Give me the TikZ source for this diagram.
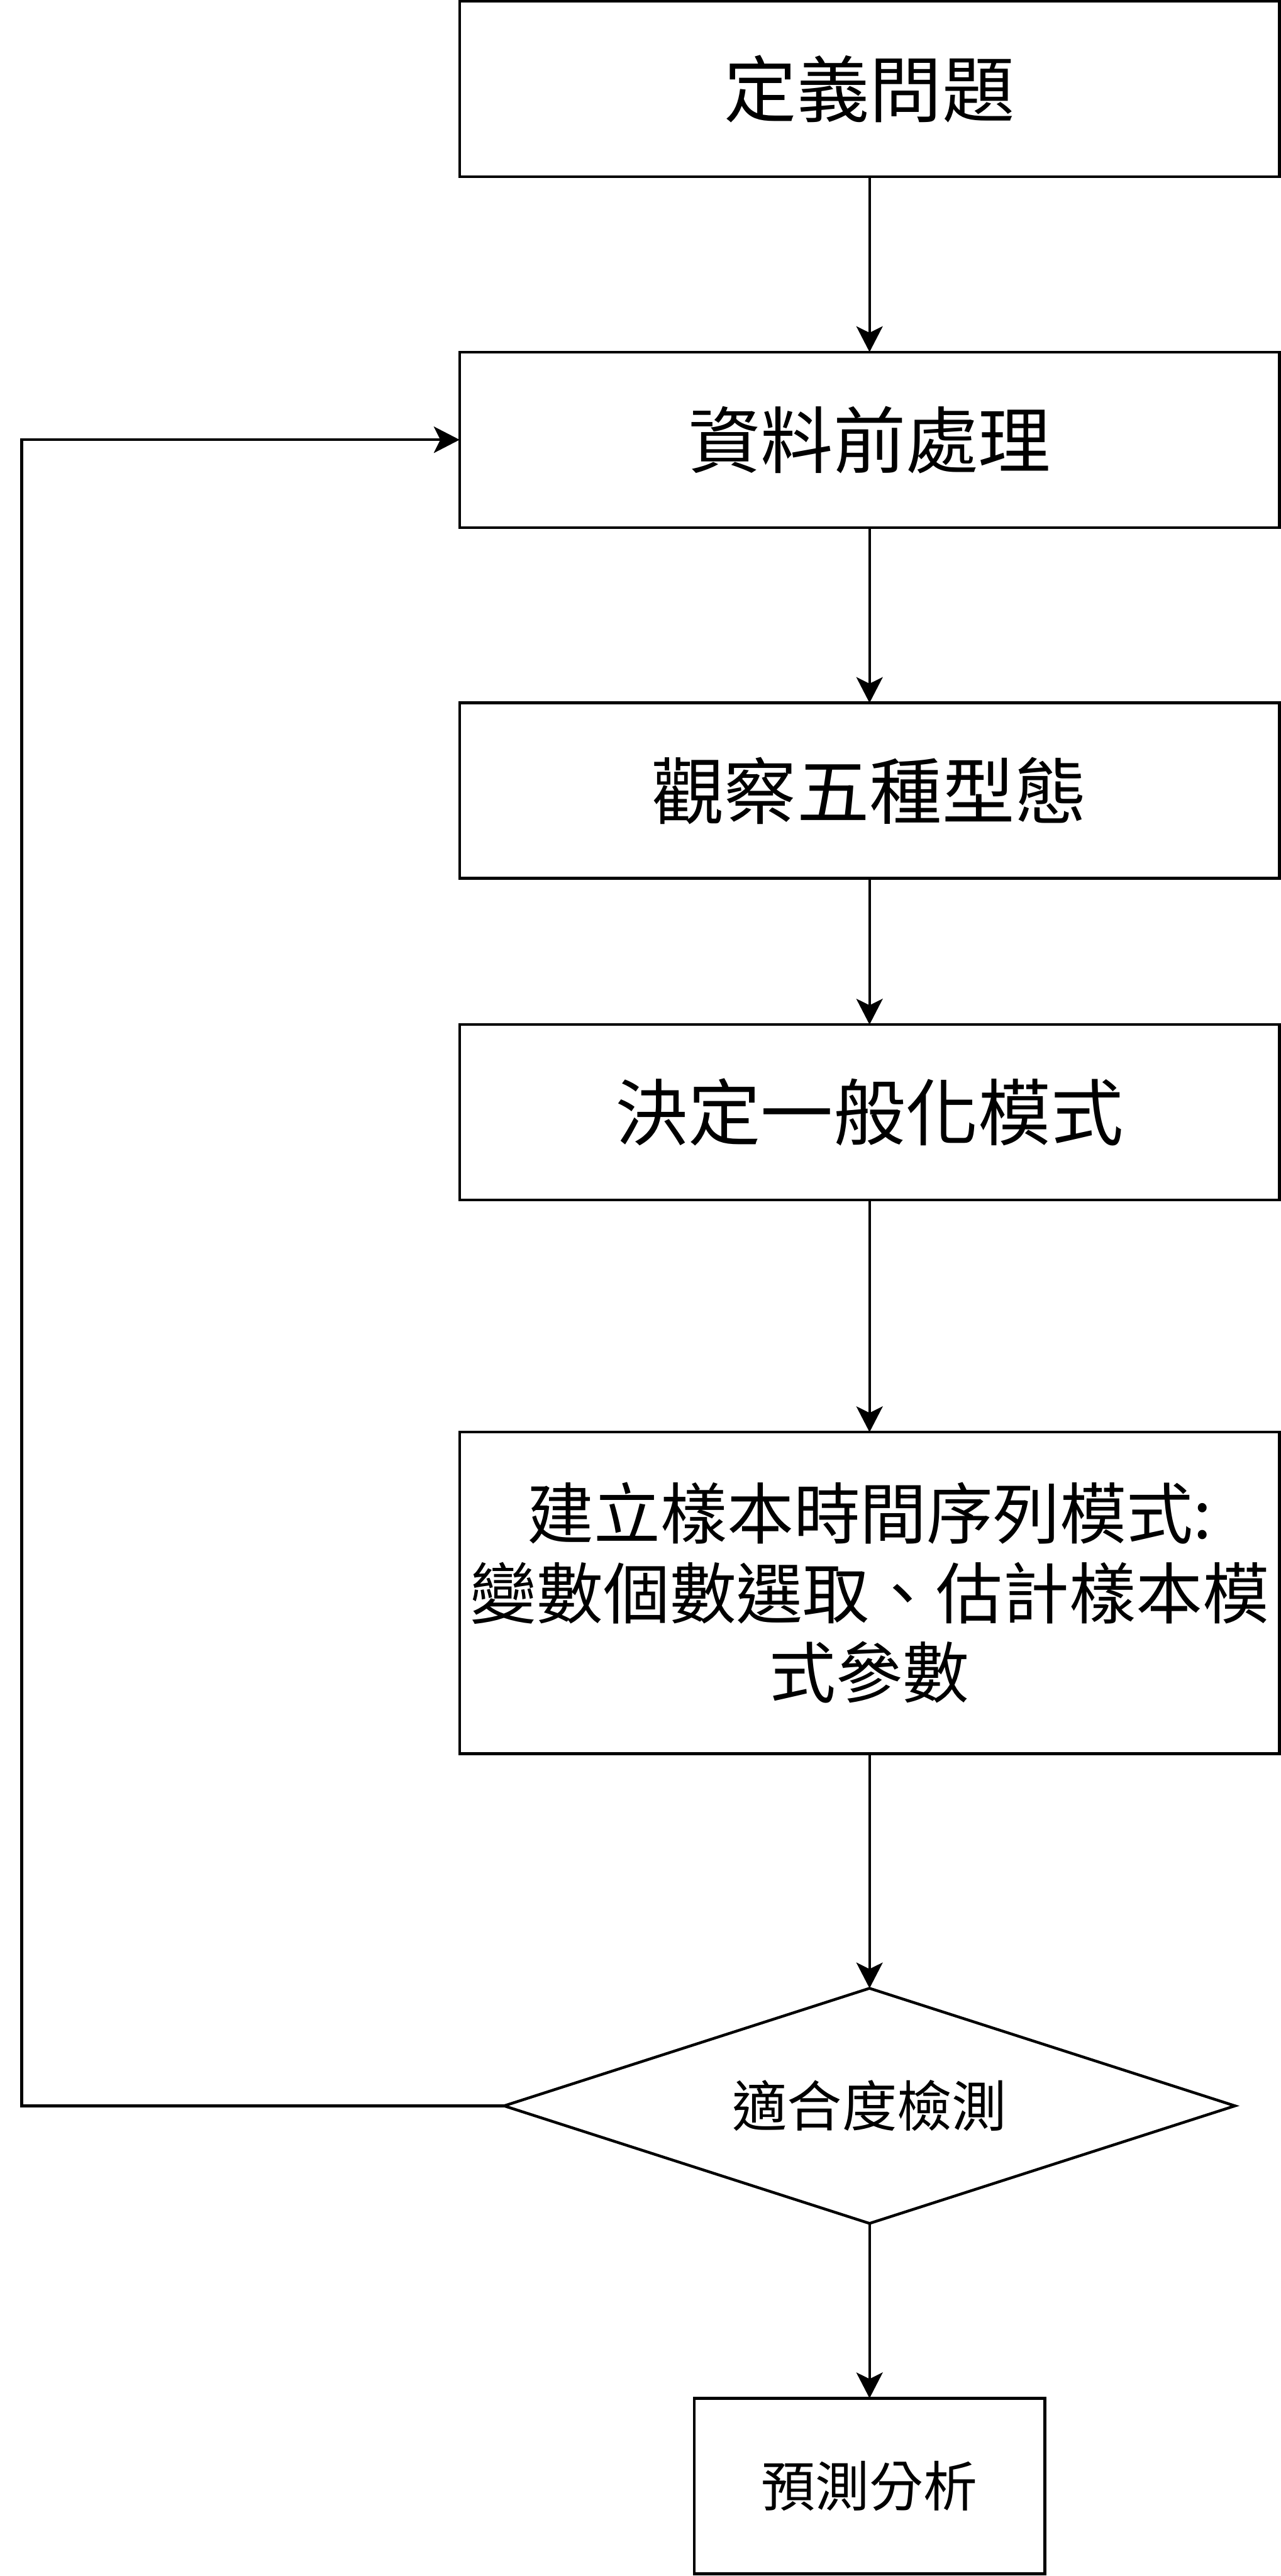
\documentclass[tikz,border=0pt]{standalone}
\usepackage{fontspec}
\setmainfont{Noto Sans CJK TC}
\usetikzlibrary{positioning, shapes.geometric, arrows.meta}

\begin{document}
\begin{tikzpicture}[line width=1.35pt,
    box/.style={draw,rectangle,minimum width=14.02cm,minimum height=3cm,inner sep=0pt,outer sep=0pt,align=center,font=\fontsize{35.3pt}{42pt}\selectfont},
    decision/.style={draw,diamond,aspect=3.1,minimum width=12.5cm,minimum height=4.02cm,inner sep=0pt,outer sep=0pt,font=\fontsize{26.7pt}{32pt}\selectfont},
    flow/.style={-{Stealth[length=0.44cm,width=0.45cm,inset=0.11cm]}}]
    \useasboundingbox (0,0) rectangle (21.9,-44.05);
    \node[box] (define) at (14.87,-1.52) {定義問題};
    \node[box,below=3cm of define] (prep) {資料前處理};
    \node[box,below=3cm of prep] (observe) {觀察五種型態};
    \node[box,below=2.5cm of observe] (decide) {決定一般化模式};
    \node[box,below=3.97cm of decide,minimum height=5.5cm,font=\fontsize{32.4pt}{38.7pt}\selectfont] (build) {建立樣本時間序列模式:\\變數個數選取、估計樣本模\\式參數};
    \node[decision,below=4.01cm of build] (fitness) {適合度檢測};
    \node[box,below=2.99cm of fitness,minimum width=6cm,font=\fontsize{26.3pt}{32pt}\selectfont] (predict) {預測分析};
    \coordinate (loop) at (0.37,0);
    \draw[flow] (define) -- (prep);
    \draw[flow] (prep) -- (observe);
    \draw[flow] (observe) -- (decide);
    \draw[flow] (decide) -- (build);
    \draw[flow] (build) -- (fitness);
    \draw[flow] (fitness) -- (predict);
    \draw[flow] (fitness.west) -- (fitness.west -| loop) |- (prep.west);
\end{tikzpicture}
\end{document}
